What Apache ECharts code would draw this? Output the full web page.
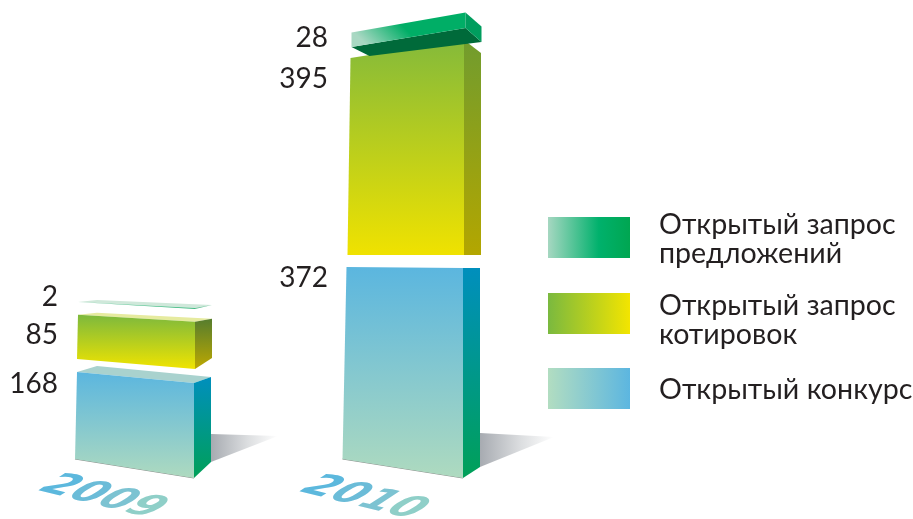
<!DOCTYPE html>
<html><head><meta charset="utf-8">
<style>html,body{margin:0;padding:0;background:#fff}#c{width:913px;height:519px}</style>
<script src="https://cdn.jsdelivr.net/npm/echarts@6/dist/echarts.min.js"></script>
</head><body><div id="c"></div>
<script>
// ---- data ----
var years = ['2009', '2010'];
var konkurs = [168, 372];
var kotirovki = [85, 395];
var predlozheniya = [2, 28];
var seriesNames = ['Открытый конкурс', 'Открытый запрос\nкотировок', 'Открытый запрос\nпредложений'];

// ---- hand-drawn perspective of the illustration (style only, px relative to a box) ----
var FONT = 'Lato, "Open Sans"';
var shape = [
  [ // конкурс
    {lift:0, stretch:1.019, xR:59, xTL:-58, xBL:-60, dTL:-11, dBL:-19, dx:17, topDy:-6, botDy:-16, backX:-38, backDy:-17, labelDy:1},
    {lift:0, stretch:1.017, xR:59, xTL:-57.5, xBL:-61.5, dTL:-1, dBL:-19, dx:17, topDy:0, botDy:-11, labelDy:10}
  ],
  [ // котировки
    {lift:15.76, stretch:1, xR:60, xTL:-57, xBL:-58, dTL:-7, dBL:-10, dx:17, topDy:-3, botDy:-11, backX:-38, backDy:-9, labelDy:13, dark:true},
    {lift:16.5, stretch:0.981, xR:60, xTL:-53.5, xBL:-56.5, dTL:18, dBL:0, dx:17, topDy:13, botDy:0, labelDy:39}
  ],
  [ // предложения
    {lift:28.6, stretch:1, xR:60, xTL:-57, xBL:-57, dTL:-6, dBL:-7, dx:17, topDy:-3, botDy:-4, backX:-38, backDy:-8, labelDy:-11},
    {lift:24.3, stretch:1, xR:61.5, xTL:-52.5, xBL:-52.5, dTL:20, dBL:19, dx:16, topDy:14, botDy:14, underX:-34.5, underDy:28, labelDy:25}
  ]
];
var shadowShape = [{dx:67, topDy:-44, tipDy:-42}, {dx:74, topDy:-45, tipDy:-41}];
var labelX = [-77, -76];
var yearPos = [{dx:-33, y:497}, {dx:-41, y:498}];
var yearColors = ['#5cb8dd', '#6bbcd8', '#7cc3d2', '#8fcfc8'];

function v(c1, c2) { return {type:'linear', x:0, y:0, x2:0, y2:1, colorStops:[{offset:0,color:c1},{offset:1,color:c2}]}; }
function h(stops) {
  return {type:'linear', x:0, y:0, x2:1, y2:0, colorStops:stops.map(function(s,i){
    return {offset: s[1] !== undefined ? s[1] : i/(stops.length-1), color:s[0]};
  })};
}
var looks = [
  [{front:v('#5bb6df','#aedabf'), side:v('#008fbd','#00a058'), top:'#a9d2ce'},
   {front:v('#5bb6df','#aedabf'), side:v('#008fbd','#00a058')}],
  [{front:v('#7db93d','#f0e400'), side:v('#567d2e','#bda800'), top:'#e6eb9f'},
   {front:v('#84ba3a','#f0e200'), side:v('#719c2e','#b3a600')}],
  [{front:'#3fb981', side:'#58bd8d', top:'#cfe8da'},
   {front:{type:'linear',x:0.15,y:1,x2:0.45,y2:0,colorStops:[{offset:0,color:'#a9d8c3'},{offset:0.8,color:'#00ae66'},{offset:1,color:'#00ae66'}]}, side:'#009d5e', under:'#006a3a'}]
];
var legendColors = [
  h([['#b2ddc1'],['#5cb6e0']]),
  h([['#7ab93f'],['#f3e500']]),
  h([['#a6d7c1',0],['#00b16c',0.62],['#00a651',1]])
];

function poly(pts, fill, z) { return {type:'polygon', shape:{points:pts}, style:{fill:fill}, z2:z||0}; }

function boxRenderer(seriesIdx) {
  return function (params, api) {
    var i = api.value(0), base = api.value(1), val = api.value(2);
    var s = shape[seriesIdx][i], look = looks[seriesIdx][i];
    var cx = api.coord([i, base])[0];
    var y0 = api.coord([i, base])[1], y1 = api.coord([i, base + val])[1];
    var yb = y0 - s.lift, yt = yb - (y0 - y1) * s.stretch;
    var xR = cx + s.xR, xB = xR + s.dx;
    var TL = [cx + s.xTL, yt + s.dTL], TR = [xR, yt], BR = [xR, yb], BL = [cx + s.xBL, yb + s.dBL];
    var bT = [xB, yt + s.topDy], bB = [xB, yb + s.botDy];
    var kids = [];
    if (seriesIdx === 0) {
      var sh = shadowShape[i];
      kids.push({type:'polygon', shape:{points:[[xB, yb + sh.topDy], [xB + sh.dx, yb + sh.tipDy], bB]},
        style:{fill:h([['#a7abb1',0],['#dcdee0',0.55],['#ffffff',1]])}});
      kids.push({type:'polyline', shape:{points:[BL, BR]}, style:{stroke:'#8d938f', lineWidth:1.2, fill:null}});
    }
    if (s.underX !== undefined) {
      kids.push(poly([BL, BR, bB, [cx + s.underX, yb + s.underDy]], look.under));
    }
    if (look.top) kids.push(poly([TL, [cx + s.backX, yt + s.backDy], bT, TR], look.top));
    kids.push(poly([TL, TR, BR, BL], look.front));
    kids.push(poly([TR, bT, bB, BR], look.side));
    kids.push({type:'text', style:{text:String(val), x:cx + labelX[i], y:yt + s.labelDy,
      fill:'#231f20', font:'28px ' + FONT, align:'right', verticalAlign:'middle'}});
    return {type:'group', children:kids};
  };
}

// floor-lying year captions: a shear written as rotate * scale * rotate
function decompose(a, b, c, d) {
  var E=(a+d)/2, F=(a-d)/2, G=(c+b)/2, H=(c-b)/2;
  var Q=Math.hypot(E,H), R=Math.hypot(F,G);
  var a1=Math.atan2(G,F), a2=Math.atan2(H,E);
  return {sx:Q+R, sy:Q-R, theta:(a2-a1)/2, phi:(a2+a1)/2};
}
var floor = decompose(1.02, -0.95, 0.25, 0.62);
function yearRenderer(params, api) {
  var i = api.value(0);
  var cx = api.coord([i, 0])[0];
  var rich = {}, txt = '';
  years[i].split('').forEach(function (ch, k) {
    rich['c' + k] = {fill: yearColors[k], font:'bold 40px "DejaVu Sans"'};
    txt += '{c' + k + '|' + ch + '}';
  });
  return {type:'group', x:cx + yearPos[i].dx, y:yearPos[i].y, rotation:-floor.phi, scaleX:floor.sx, scaleY:floor.sy,
    children:[{type:'text', rotation:-floor.theta,
      style:{text:txt, rich:rich, x:0, y:0, align:'center', verticalAlign:'middle', font:'bold 40px "DejaVu Sans"'}}]};
}

function rows(vals, bases) {
  return vals.map(function (val, i) { return [years[i], bases[i], val]; });
}
var base0 = [0, 0];
var base1 = konkurs.slice();
var base2 = konkurs.map(function (x, i) { return x + kotirovki[i]; });

function legendOf(idx, top, firstLinePad) {
  var lineStyle = {fontFamily:FONT, fontSize:28.6, lineHeight:29, color:'#231f20'};
  return {
    orient:'vertical', left:548, top:top, padding:0, itemWidth:82, itemHeight:41, itemGap:0, icon:'rect',
    selectedMode:false,
    data:[{name:seriesNames[idx], icon:'rect', itemStyle:{color:legendColors[idx], borderWidth:0}}],
    formatter:function (name) {
      return '{gap| }\n' + name.split('\n').map(function (line) { return '{line|' + line + '}'; }).join('\n');
    },
    textStyle:{fontFamily:FONT, fontSize:28.6, lineHeight:29, color:'#231f20', padding:[0,0,0,24],
      rich:{
        gap:{fontSize:1, lineHeight:firstLinePad, height:firstLinePad},
        line:lineStyle
      }}
  };
}
function customSeries(idx, data) {
  return {type:'custom', name:seriesNames[idx], coordinateSystem:'cartesian2d', clip:false, silent:true,
    renderItem:boxRenderer(idx), data:data, encode:{x:0, y:[1,2]}, itemStyle:{color:legendColors[idx]}};
}

var chart = echarts.init(document.getElementById('c'), null, {renderer:'canvas'});
chart.setOption({
  animation:false,
  backgroundColor:'#ffffff',
  grid:{left:0.5, width:538, top:34, height:444},
  xAxis:{type:'category', data:years, show:false},
  yAxis:{type:'value', min:0, max:800, show:false},
  legend:[legendOf(2, 207, 3), legendOf(1, 277.5, 14), legendOf(0, 368, 2)],
  series:[
    customSeries(0, rows(konkurs, base0)),
    customSeries(1, rows(kotirovki, base1)),
    customSeries(2, rows(predlozheniya, base2)),
    {type:'custom', name:'years', coordinateSystem:'cartesian2d', clip:false, silent:true,
     renderItem:yearRenderer, data:years.map(function (y) { return [y, 0]; }), encode:{x:0, y:1}}
  ]
});
</script></body></html>
